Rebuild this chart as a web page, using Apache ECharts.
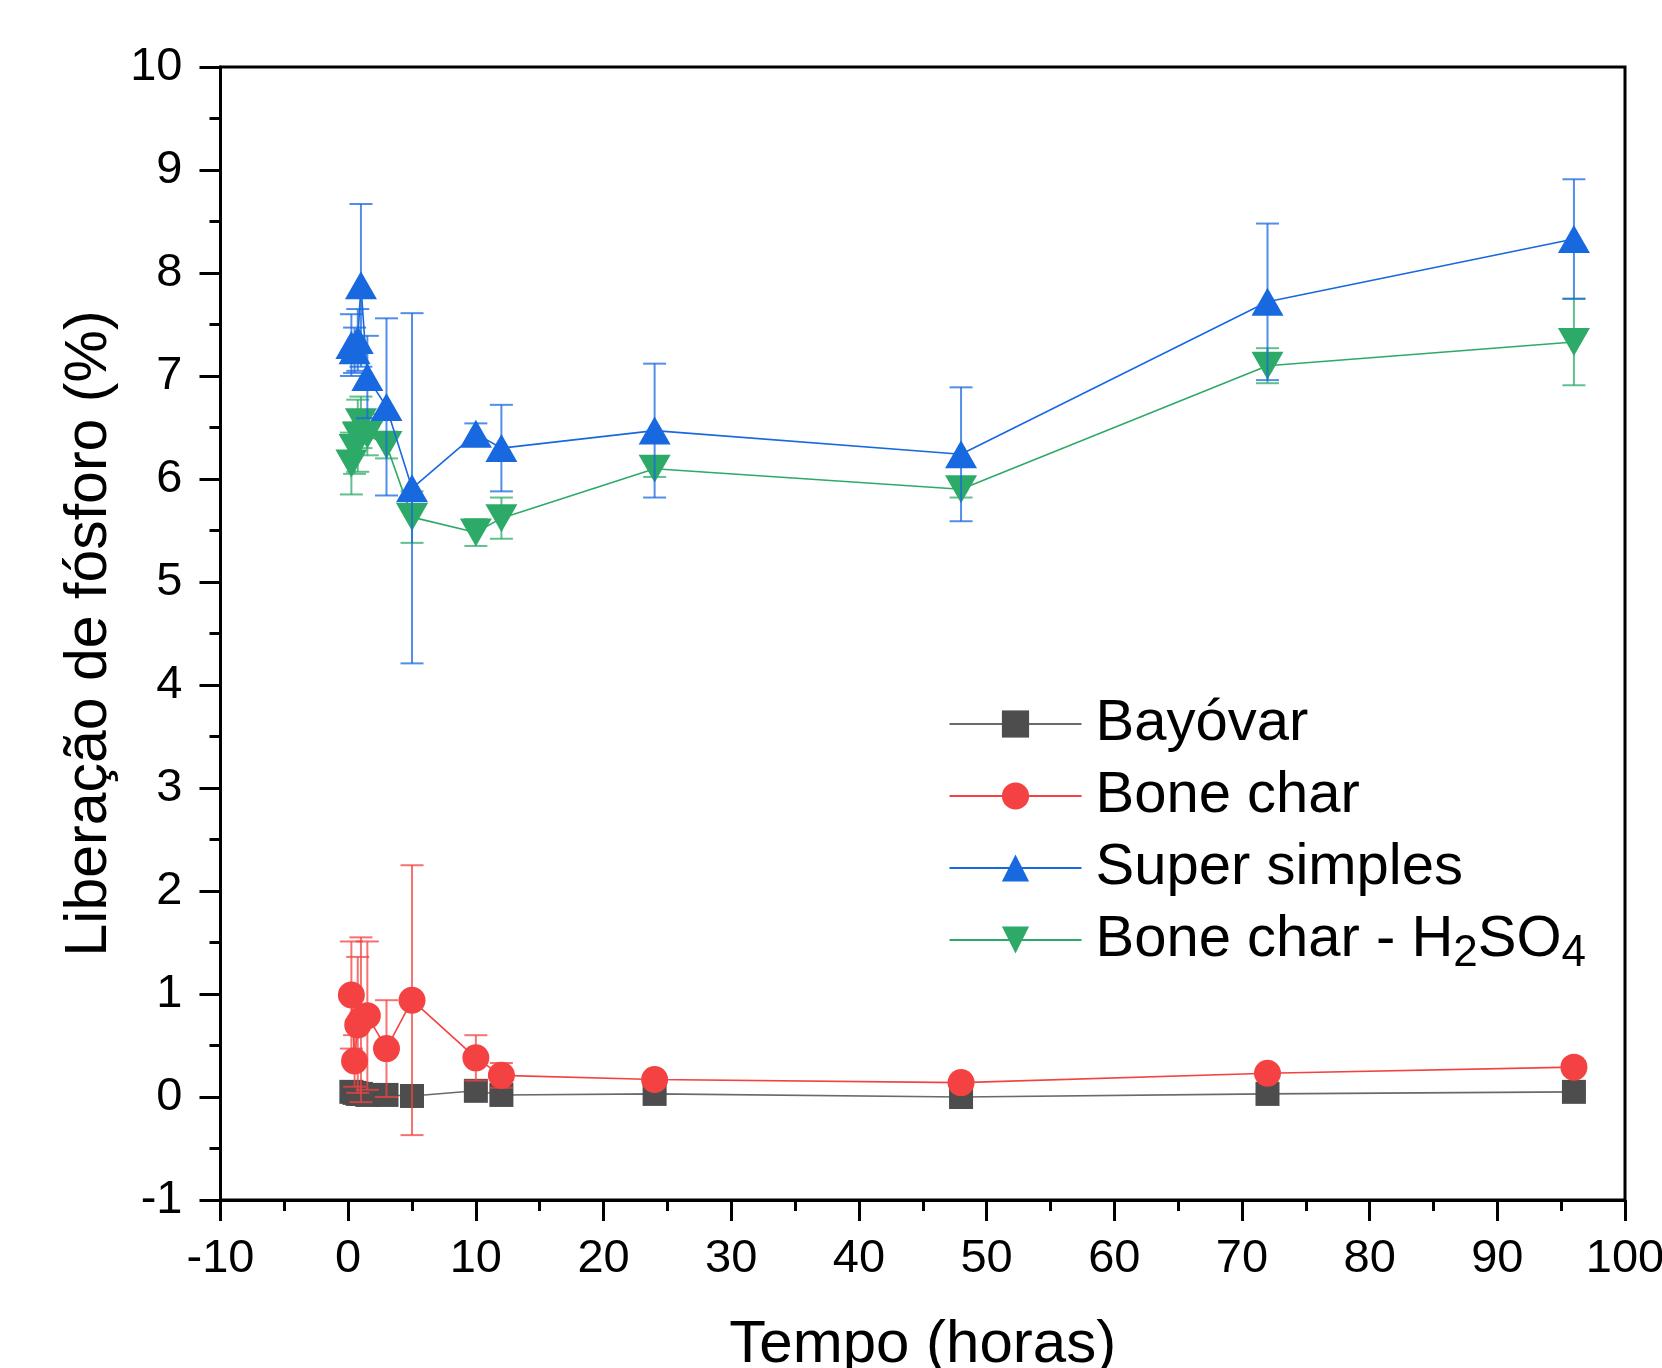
<!DOCTYPE html>
<html>
<head>
<meta charset="utf-8">
<script src="https://cdn.jsdelivr.net/npm/echarts@6/dist/echarts.min.js"></script>
<style>
html,body{margin:0;padding:0;background:#fff;}
#chart{width:1662px;height:1368px;}
</style>
</head>
<body>
<div id="chart"></div>
<script>
// ---- data ----
const times = [0.25, 0.5, 0.75, 1, 1.5, 3, 5, 10, 12, 24, 48, 72, 96];

const bayovar    = [0.05, 0.04, 0.03, 0.03, 0.02, 0.02, 0.01, 0.06, 0.02, 0.03, 0.00, 0.03, 0.05];
const bayovarErr = [0.08, 0.06, 0.05, 0.10, 0.04, 0.03, 0.03, 0.03, 0.02, 0.02, 0.02, 0.02, 0.02];

const boneChar    = [0.99, 0.35, 0.70, 0.75, 0.79, 0.47, 0.94, 0.38, 0.21, 0.17, 0.14, 0.23, 0.29];
const boneCharErr = [0.52, 0.25, 0.66, 0.80, 0.72, 0.47, 1.31, 0.22, 0.12, 0.04, 0.04, 0.05, 0.05];

const superSimples    = [7.30, 7.25, 7.35, 7.88, 6.99, 6.70, 5.91, 6.44, 6.30, 6.47, 6.24, 7.72, 8.33];
const superSimplesErr = [0.30, 0.22, 0.30, 0.79, 0.40, 0.86, 1.70, 0.10, 0.42, 0.65, 0.65, 0.76, 0.58];

const boneH2SO4    = [6.15, 6.30, 6.42, 6.55, 6.43, 6.33, 5.63, 5.48, 5.62, 6.10, 5.90, 7.10, 7.33];
const boneH2SO4Err = [0.30, 0.25, 0.35, 0.25, 0.20, 0.13, 0.25, 0.13, 0.20, 0.08, 0.08, 0.17, 0.42];

const xTicks = {min: -10, max: 100, interval: 10};
const yTicks = {min: -1, max: 10, interval: 1};

const names = ['Bayóvar', 'Bone char', 'Super simples', 'Bone char - H2SO4'];

// ---- build ----
const FONT = "'Liberation Sans', Arial, sans-serif";
function pts(vals){ return times.map((t,i)=>[t, vals[i]]); }
function errPts(vals, errs){ return times.map((t,i)=>[t, vals[i]-errs[i], vals[i]+errs[i]]); }

function errSeries(name, vals, errs, color, z){
  return {
    type: 'custom', name: 'err: ' + name, z: z, silent: true,
    data: errPts(vals, errs),
    encode: {x: 0, y: [1, 2]},
    renderItem: function(params, api){
      const x = api.value(0);
      const top = api.coord([x, api.value(2)]);
      const bot = api.coord([x, api.value(1)]);
      const hw = 11.5;
      const style = {stroke: color, lineWidth: 2, fill: null};
      return {type: 'group', children: [
        {type: 'line', shape: {x1: top[0], y1: top[1], x2: bot[0], y2: bot[1]}, style: style},
        {type: 'line', shape: {x1: top[0]-hw, y1: top[1], x2: top[0]+hw, y2: top[1]}, style: style},
        {type: 'line', shape: {x1: bot[0]-hw, y1: bot[1], x2: bot[0]+hw, y2: bot[1]}, style: style}
      ]};
    }
  };
}
function lineSeries(name, vals, color, lineColor, symbol, size, rotate, z){
  return {
    type: 'line', name: name, z: z,
    data: pts(vals),
    symbol: symbol, symbolSize: size, symbolRotate: rotate,
    showAllSymbol: true,
    itemStyle: {color: color, opacity: 1},
    lineStyle: {color: lineColor, width: 1.6},
    emphasis: {disabled: true}
  };
}

const cBlack = '#4d4d4d', cRed = '#f44242', cBlue = '#1868e0', cGreen = '#2eaa68';

const chart = echarts.init(document.getElementById('chart'), null, {renderer: 'canvas'});
chart.setOption({
  animation: false,
  backgroundColor: '#ffffff',
  textStyle: {fontFamily: FONT, color: '#000'},
  grid: {left: 220.5, right: 37, top: 67, bottom: 168, show: true, borderColor: '#000', borderWidth: 3,
         outerBoundsMode: 'none', containLabel: false},
  legend: {
    data: names,
    left: 943.5, top: 690, orient: 'vertical',
    itemWidth: 132, itemHeight: 34, itemGap: 14,
    selectedMode: false,
    formatter: function(n){
      if (n === 'Bone char - H2SO4') return '{n|Bone char - H}{s|2}{n|SO}{s|4}';
      return '{n|' + n + '}';
    },
    textStyle: {
      fontFamily: FONT, color: '#000', fontSize: 58,
      padding: [0, 0, 0, 9],
      rich: {
        n: {fontFamily: FONT, fontSize: 58, lineHeight: 72, color: '#000'},
        s: {fontFamily: FONT, fontSize: 44, lineHeight: 36, verticalAlign: 'bottom', color: '#000'}
      }
    }
  },
  xAxis: {
    type: 'value', min: xTicks.min, max: xTicks.max, interval: xTicks.interval,
    name: 'Tempo (horas)', nameLocation: 'middle', nameGap: 115,
    nameTextStyle: {fontFamily: FONT, fontSize: 60, color: '#000'},
    axisLine: {onZero: false, lineStyle: {color: '#000', width: 3}},
    axisTick: {show: true, inside: false, length: 21, lineStyle: {color: '#000', width: 3}},
    minorTick: {show: true, splitNumber: 2, length: 11, lineStyle: {color: '#000', width: 3}},
    splitLine: {show: false},
    axisLabel: {fontFamily: FONT, fontSize: 47, color: '#000', margin: 36}
  },
  yAxis: {
    type: 'value', min: yTicks.min, max: yTicks.max, interval: yTicks.interval,
    name: 'Liberação de fósforo (%)', nameLocation: 'middle', nameGap: 101,
    nameTextStyle: {fontFamily: FONT, fontSize: 59, color: '#000'},
    axisLine: {onZero: false, lineStyle: {color: '#000', width: 3}},
    axisTick: {show: true, inside: false, length: 21, lineStyle: {color: '#000', width: 3}},
    minorTick: {show: true, splitNumber: 2, length: 11, lineStyle: {color: '#000', width: 3}},
    splitLine: {show: false},
    axisLabel: {fontFamily: FONT, fontSize: 47, color: '#000', margin: 38}
  },
  series: [
    errSeries('Bayóvar', bayovar, bayovarErr, 'rgba(90,90,90,0.8)', 1),
    lineSeries('Bayóvar', bayovar, cBlack, '#6a6a6a', 'rect', 24, 0, 2),
    errSeries('Bone char', boneChar, boneCharErr, 'rgba(244,66,66,0.75)', 3),
    lineSeries('Bone char', boneChar, cRed, cRed, 'circle', 27, 0, 4),
    errSeries('Bone char - H2SO4', boneH2SO4, boneH2SO4Err, 'rgba(46,170,104,0.75)', 5),
    lineSeries('Bone char - H2SO4', boneH2SO4, cGreen, cGreen, 'triangle', [32, 28], 180, 6),
    errSeries('Super simples', superSimples, superSimplesErr, 'rgba(24,104,224,0.75)', 7),
    lineSeries('Super simples', superSimples, cBlue, cBlue, 'triangle', [32, 28], 0, 8)
  ]
});
</script>
</body>
</html>
